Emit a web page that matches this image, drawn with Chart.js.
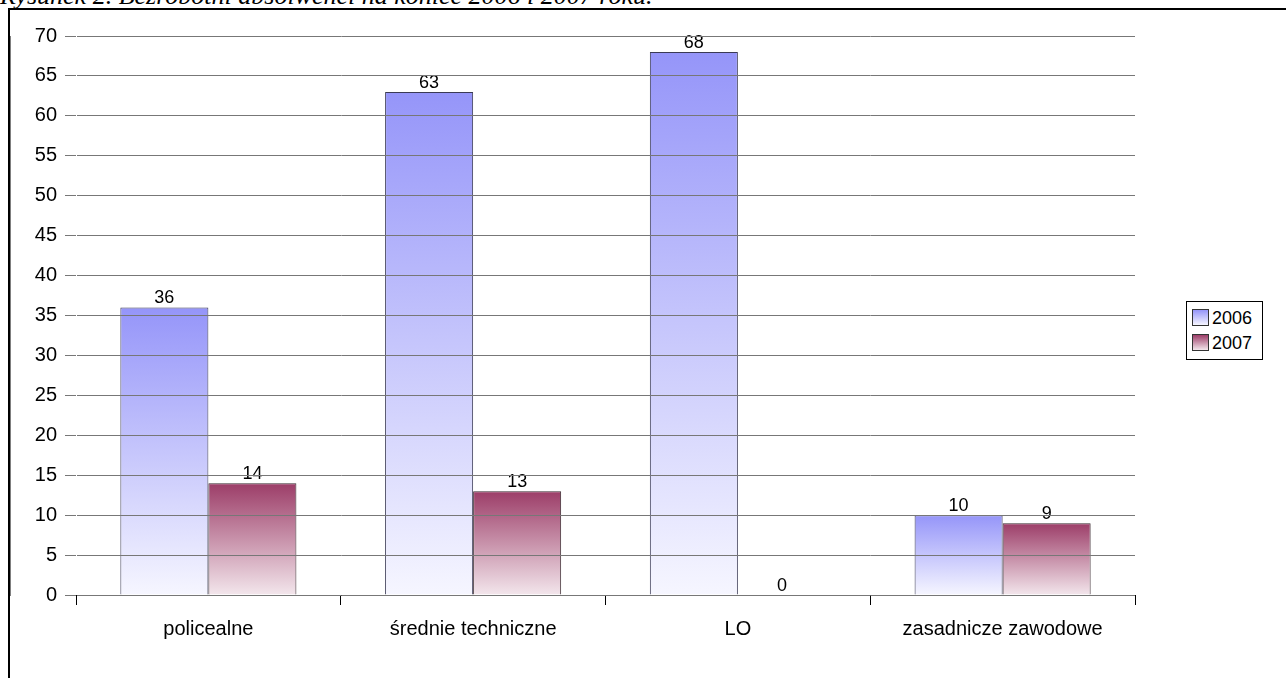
<!DOCTYPE html>
<html>
<head>
<meta charset="utf-8">
<script src="https://cdn.jsdelivr.net/npm/chart.js@4"></script>
<style>
    html, body { margin: 0; padding: 0; background: #fff; overflow: hidden; }
    body { width: 1286px; height: 678px; position: relative; font-family: "Liberation Sans", Arial, sans-serif; }
    .caption { position: absolute; left: 0; top: -17px; font: italic 26px "Liberation Serif", "Times New Roman", serif; line-height: 26px; white-space: nowrap; }
    .frame { position: absolute; left: 8px; top: 8px; width: 1400px; height: 800px; border-left: 2px solid #000; border-top: 2px solid #000; background: #fff; }
    #wrap { position: absolute; left: 10px; top: 10px; width: 1276px; height: 668px; }
    .legend { position: absolute; left: 1186px; top: 301px; width: 77px; height: 59px; border: 1px solid #000; box-sizing: border-box; background: #fff; font-size: 18px; }
    .legend div { position: absolute; left: 5px; height: 18px; line-height: 18px; }
    .legend span { display: inline-block; width: 17px; height: 17px; border: 1px solid #333; box-sizing: border-box; vertical-align: top; margin-right: 3px; }
</style>
</head>
<body>
<div class="caption">Rysunek 2. Bezrobotni absolwenci na koniec 2006 i 2007 roku.</div>
<div class="frame"></div>
<div id="wrap"><canvas id="chart"></canvas></div>
<div class="legend" id="legend"></div>

<script>
    // dane z wykresu
    var categories = ['policealne', 'średnie techniczne', 'LO', 'zasadnicze zawodowe'];
    var years = ['2006', '2007'];
    var values2006 = [36, 63, 68, 10];
    var values2007 = [14, 13, 0, 9];
    var yTicks = [0, 70, 5];

    var topColors = ['#9595f9', '#9c3d68'];
    var bottomColors = ['#f6f6ff', '#f3e6ec'];

    function barGradient(ctx, i) {
        var chart = ctx.chart;
        if (!chart.chartArea || ctx.raw === undefined) return topColors[i];
        var y = chart.scales.y;
        var top = y.getPixelForValue(ctx.raw);
        var bottom = y.getPixelForValue(0);
        if (top === bottom) top = bottom - 1;
        var g = chart.ctx.createLinearGradient(0, top, 0, bottom);
        g.addColorStop(0, topColors[i]);
        g.addColorStop(1, bottomColors[i]);
        return g;
    }

    // etykiety wartosci nad slupkami
    var valueLabels = {
        id: 'valueLabels',
        afterDatasetsDraw: function (chart) {
            var c = chart.ctx;
            c.save();
            c.font = '18px "Liberation Sans", Arial, sans-serif';
            c.fillStyle = '#000';
            c.textAlign = 'center';
            c.textBaseline = 'bottom';
            chart.data.datasets.forEach(function (ds, i) {
                chart.getDatasetMeta(i).data.forEach(function (bar, j) {
                    c.fillText(ds.data[j], bar.x, bar.y);
                });
            });
            c.restore();
        }
    };

    var ctx = document.getElementById('chart').getContext('2d');
    var myChart = new Chart(ctx, {
        type: 'bar',
        data: {
            labels: categories,
            datasets: [{
                label: years[0],
                data: values2006,
                backgroundColor: function (c) { return barGradient(c, 0); },
                borderColor: '#3a3a55',
                borderWidth: 1
            }, {
                label: years[1],
                data: values2007,
                backgroundColor: function (c) { return barGradient(c, 1); },
                borderColor: '#3a2a30',
                borderWidth: 1
            }]
        },
        options: {
            responsive: true,
            maintainAspectRatio: false,
            animation: false,
            layout: { padding: { top: 26, right: 151, left: 0, bottom: 0 } },
            plugins: { legend: { display: false }, tooltip: { enabled: false } },
            datasets: { bar: { barPercentage: 1, categoryPercentage: 0.665 } },
            scales: {
                x: {
                    grid: { offset: true, drawOnChartArea: false, tickLength: 10, color: '#000' },
                    border: { color: '#000', width: 1 },
                    ticks: { color: '#000', padding: 12, font: { size: 20, family: '"Liberation Sans", Arial' }, maxRotation: 0 },
                    afterFit: function (s) { s.height = 83; }
                },
                y: {
                    min: yTicks[0],
                    max: yTicks[1],
                    ticks: { stepSize: yTicks[2], color: '#000', padding: 8, font: { size: 20, family: '"Liberation Sans", Arial' } },
                    grid: { color: '#777', tickLength: 11, z: 1 },
                    border: { color: '#000', width: 1 },
                    afterFit: function (s) { s.width = 66; }
                }
            }
        },
        plugins: [valueLabels]
    });

    // legenda
    var leg = document.getElementById('legend');
    years.forEach(function (yr, i) {
        var row = document.createElement('div');
        row.style.top = (7 + i * 25) + 'px';
        var sw = document.createElement('span');
        sw.style.background = 'linear-gradient(' + topColors[i] + ', ' + bottomColors[i] + ')';
        row.appendChild(sw);
        row.appendChild(document.createTextNode(yr));
        leg.appendChild(row);
    });
</script>
</body>
</html>
